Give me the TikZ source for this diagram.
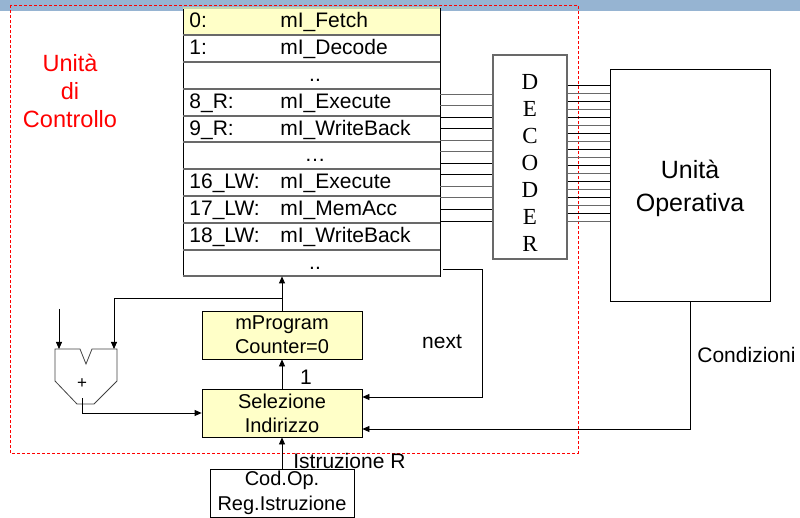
\documentclass[tikz,border=0pt]{standalone}
\usepackage{fontspec}
\setmainfont{Liberation Sans}
\newfontfamily\serifdec{Liberation Serif}
\usetikzlibrary{arrows.meta}
\definecolor{band}{RGB}{150,180,210}
\definecolor{pale}{RGB}{255,255,200}
\definecolor{rowline}{RGB}{105,105,105}
\definecolor{topgreen}{RGB}{195,215,175}
\begin{document}
\begin{tikzpicture}[x=1pt,y=-1pt,line width=0.8pt,
  >={Triangle[length=7pt,width=6pt]},
  rowbox/.style={draw=black,minimum width=257pt,minimum height=26.8pt,inner sep=0pt},
  rowtxt/.style={anchor=base west,inner sep=0pt,font=\fontsize{21}{24}\selectfont},
  dots/.style={anchor=base,inner sep=0pt,font=\fontsize{21}{24}\selectfont},
  ybox/.style={draw=black,fill=pale,minimum width=160pt,minimum height=48pt,inner sep=0pt,align=center,font=\fontsize{20}{24}\selectfont},
  lbl/.style={inner sep=0pt,font=\fontsize{21}{24}\selectfont},
  busline/.style={line width=0.9pt}]
\useasboundingbox (0,0) rectangle (800,518);
\fill[band] (0,0) rectangle (800,11);
% control unit frame
\draw[red,dash pattern=on 3pt off 2pt,line width=0.8pt] (10,5) rectangle (578,453);
\node[red,align=center,inner sep=0pt,font=\fontsize{23.5}{28}\selectfont] (uc) at (70,91) {Unità\\di\\Controllo};
% microprogram memory rows
\node[rowbox,fill=pale] (r0) at (311.5,21.4) {};
\node[rowbox] (r1) at (311.5,48.2) {};
\node[rowbox] (r2) at (311.5,75) {};
\node[rowbox] (r3) at (311.5,101.8) {};
\node[rowbox] (r4) at (311.5,128.6) {};
\node[rowbox] (r5) at (311.5,155.4) {};
\node[rowbox] (r6) at (311.5,182.2) {};
\node[rowbox] (r7) at (311.5,209) {};
\node[rowbox] (r8) at (311.5,235.8) {};
\node[rowbox] (r9) at (311.5,262.6) {};
\draw[topgreen,line width=2pt] (r0.north west) -- (r0.north east);
\foreach \r in {r0,r1,r2,r3,r4,r5,r6,r7,r8,r9}
  \draw[rowline,line width=2pt] (\r.south west) -- (\r.south east);
\node[rowtxt] (l0) at (189,28) {0:};
\node[rowtxt] (i0) at (280,28) {mI\_Fetch};
\node[rowtxt] (l1) at (189,54.8) {1:};
\node[rowtxt] (i1) at (280,54.8) {mI\_Decode};
\node[dots] (d2) at (315,81.6) {..};
\node[rowtxt] (l3) at (189,108.4) {8\_R:};
\node[rowtxt] (i3) at (280,108.4) {mI\_Execute};
\node[rowtxt] (l4) at (189,135.2) {9\_R:};
\node[rowtxt] (i4) at (280,135.2) {mI\_WriteBack};
\node[dots] (d5) at (315,162) {\dots};
\node[rowtxt] (l6) at (189,188.8) {16\_LW:};
\node[rowtxt] (i6) at (280,188.8) {mI\_Execute};
\node[rowtxt] (l7) at (189,215.6) {17\_LW:};
\node[rowtxt] (i7) at (280,215.6) {mI\_MemAcc};
\node[rowtxt] (l8) at (189,242.4) {18\_LW:};
\node[rowtxt] (i8) at (280,242.4) {mI\_WriteBack};
\node[dots] (d9) at (315,269.2) {..};
% decoder
\node[draw=rowline,line width=1.2pt,minimum width=74pt,minimum height=204pt,inner sep=0pt] (dec) at (530,157) {};
\node[align=center,inner sep=0pt,font=\serifdec\fontsize{23}{27}\selectfont] (declbl) at (530,163) {D\\E\\C\\O\\D\\E\\R};
% operative unit
\node[draw=black,minimum width=160pt,minimum height=232pt,inner sep=0pt] (uo) at (690,185) {};
\node[align=center,inner sep=0pt,font=\fontsize{25}{33}\selectfont] (uolbl) at (690,188) {Unità\\Operativa};
% buses
\foreach \y/\c in {94/rowline,105.5/rowline,117/black,128.5/black,140/rowline,151.5/rowline,163/black,174.5/black,186/rowline,197.5/rowline,209/black,221/black}
  \draw[busline,\c] (r0.east |- 0,\y) -- (dec.west |- 0,\y);
\foreach \y in {85,101,...,213}
  \draw[busline,black] (dec.east |- 0,\y) -- (uo.west |- 0,\y);
\foreach \y in {93,109,...,221}
  \draw[busline,rowline] (dec.east |- 0,\y) -- (uo.west |- 0,\y);
% lower boxes
\node[ybox] (mpc) at (282,335) {mProgram\\Counter=0};
\node[ybox] (sel) at (282,413) {Selezione\\Indirizzo};
\node[draw=black,minimum width=144pt,minimum height=48pt,inner sep=0pt,align=center,font=\fontsize{20}{25}\selectfont] (cod) at (282,493) {Cod.Op.\\Reg.Istruzione};
% adder
\draw[black!75] (55,349) -- (80,349) -- (86,364) -- (92,349) -- (117,349) -- (117,381) -- (94,404) -- (77,404) -- (55,381) -- cycle;
\node[inner sep=0pt,font=\fontsize{17}{18}\selectfont] (plus) at (82,384) {+};
\coordinate (addL) at (59,349);
\coordinate (addR) at (114,349);
\coordinate (addO) at (82,398);
\coordinate (inTop) at (59,309);
\coordinate (br) at (282,298);
\coordinate (nx) at (443,269);
% connectors
\draw[->] (mpc.north) -- (mpc.north |- r9.south);
\draw[->] (br) -| (addR);
\draw[->] (inTop) -- (addL);
\draw[->] (addO) |- (sel.west);
\draw[->] (sel.north) -- (mpc.south);
\draw[->] (cod.north) -- (sel.south);
\draw[->] (nx) -- (482,269) |- (sel.east |- 0,397);
\draw[->] (uo.south) |- (sel.east |- 0,429);
% labels
\node[lbl] (one) at (306,377) {1};
\node[lbl] (next) at (442,342) {next};
\node[lbl,anchor=west] (cond) at (697,355) {Condizioni};
\node[lbl,anchor=west] (istr) at (293,461) {Istruzione R};
\end{tikzpicture}
\end{document}
